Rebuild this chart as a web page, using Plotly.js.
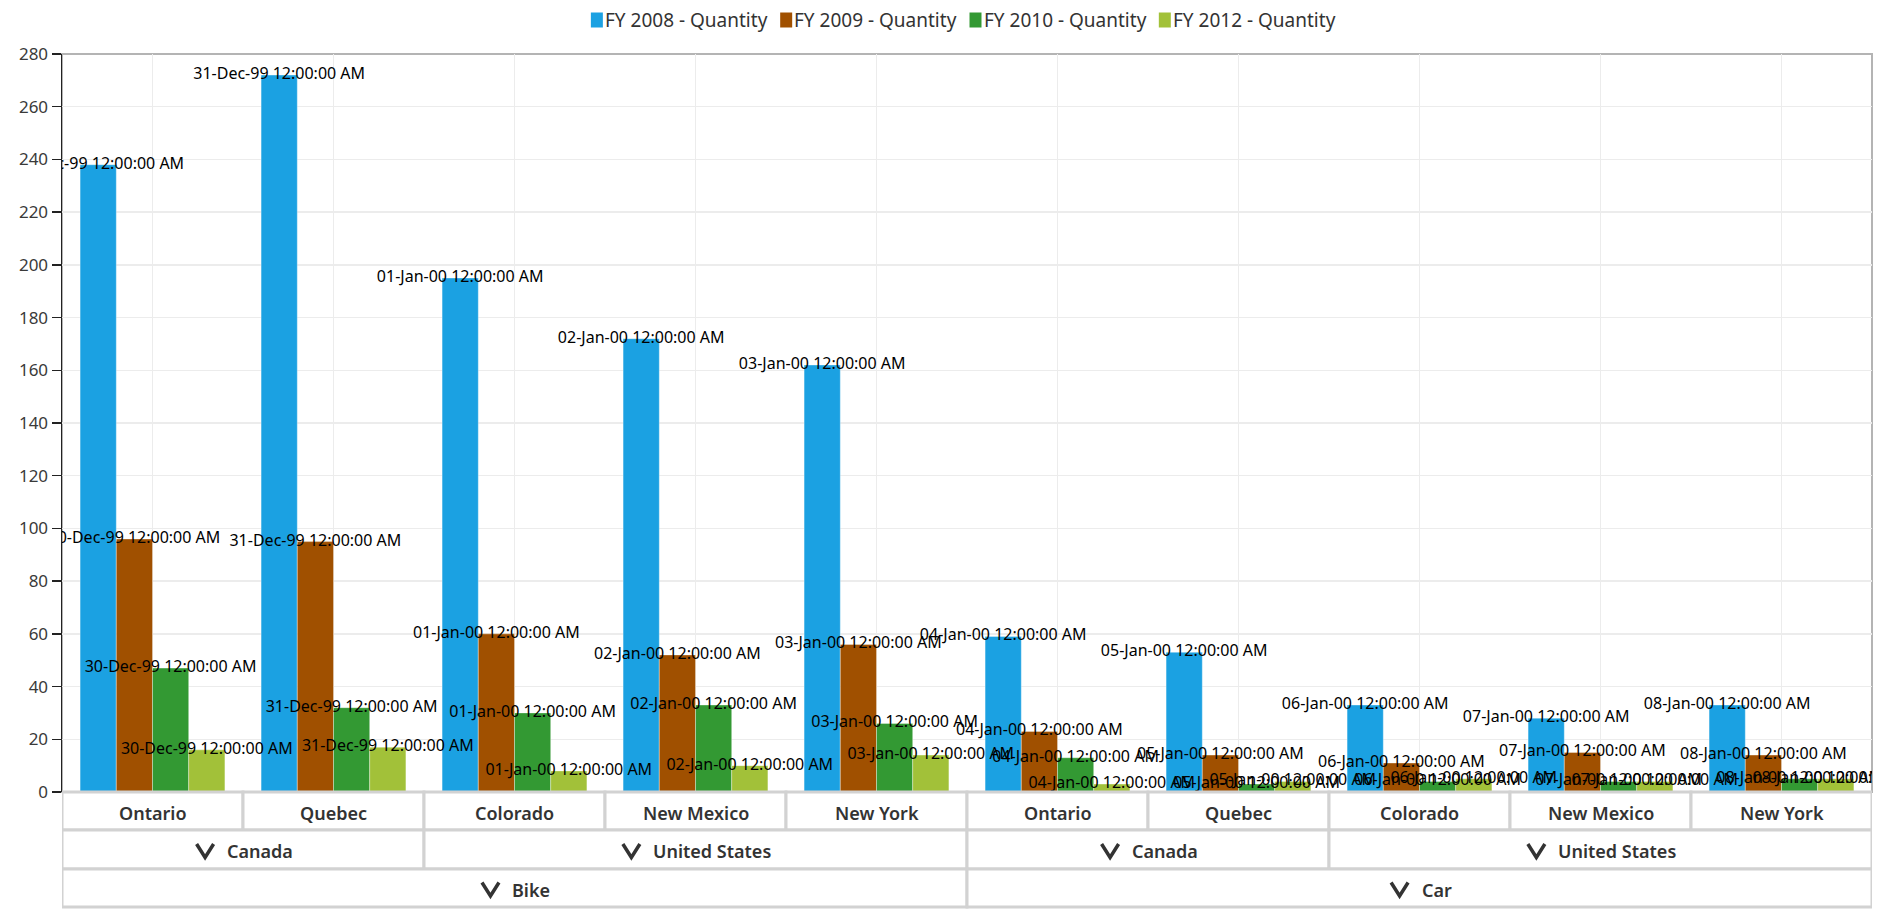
<!DOCTYPE html>
<html>
<head>
<meta charset="utf-8">
<script src="https://cdn.plot.ly/plotly-3.0.1.min.js"></script>
<style>
  html, body { margin: 0; padding: 0; background: #ffffff; }
  #chart { width: 1878px; height: 915px; }
</style>
</head>
<body>
<div id="chart"></div>
<script>
// Hierarchical categories: vehicle > country > state/province
const vehicles  = ['Bike', 'Bike', 'Bike', 'Bike', 'Bike', 'Car', 'Car', 'Car', 'Car', 'Car'];
const countries = ['Canada', 'Canada', 'United States', 'United States', 'United States',
                   'Canada', 'Canada', 'United States', 'United States', 'United States'];
const states    = ['Ontario', 'Quebec', 'Colorado', 'New Mexico', 'New York',
                   'Ontario', 'Quebec', 'Colorado', 'New Mexico', 'New York'];

// Data-label text shown at the top of every bar of a category
const pointLabels = ['30-Dec-99 12:00:00 AM', '31-Dec-99 12:00:00 AM', '01-Jan-00 12:00:00 AM',
                     '02-Jan-00 12:00:00 AM', '03-Jan-00 12:00:00 AM', '04-Jan-00 12:00:00 AM',
                     '05-Jan-00 12:00:00 AM', '06-Jan-00 12:00:00 AM', '07-Jan-00 12:00:00 AM',
                     '08-Jan-00 12:00:00 AM'];

// Quantity series
const seriesNames  = ['FY 2008 - Quantity', 'FY 2009 - Quantity', 'FY 2010 - Quantity', 'FY 2012 - Quantity'];
const seriesColors = ['#1ba1e2', '#a05000', '#339933', '#a2c139'];
const fy2008 = [238, 272, 195, 172, 162, 59, 53, 33, 28, 33];
const fy2009 = [96, 95, 60, 52, 56, 23, 14, 11, 15, 14];
const fy2010 = [47, 32, 30, 33, 26, 13, 3, 4, 4, 5];
const fy2012 = [16, 17, 8, 10, 14, 3, 4, 5, 4, 5];
const seriesValues = [fy2008, fy2009, fy2010, fy2012];

// Y axis ticks
const yTickValues = [0, 20, 40, 60, 80, 100, 120, 140, 160, 180, 200, 220, 240, 260, 280];

// ---- layout constants ----
const W = 1878, H = 915;
const M = { l: 62, r: 6, t: 54, b: 123 };
const plotW = W - M.l - M.r;
const plotH = H - M.t - M.b;
const FONT = '"Segoe UI", "Noto Sans", sans-serif';
const GAP = 0.2;

// pixel position (from page top-left) -> paper units
const py = p => (H - M.b - p) / plotH;
const px = p => (p - M.l) / plotW;

const catKeys = states.map((s, i) => vehicles[i] + ' / ' + countries[i] + ' / ' + s);

const traces = [];
seriesValues.forEach((vals, k) => {
  traces.push({
    type: 'bar',
    name: seriesNames[k],
    x: catKeys,
    y: vals,
    marker: { color: seriesColors[k], line: { color: 'rgba(255,255,255,0.35)', width: 1 } },
    showlegend: false,
    hoverinfo: 'skip'
  });
});
seriesValues.forEach((vals, k) => {
  traces.push({
    type: 'scatter',
    mode: 'text',
    x: catKeys,
    y: vals,
    text: pointLabels,
    textposition: 'middle center',
    textfont: { family: FONT, size: 16, color: '#000000' },
    cliponaxis: true,
    showlegend: false,
    hoverinfo: 'skip'
  });
});

// consecutive runs of equal keys -> header cells
function runs(keyOf, labelOf) {
  const out = [];
  for (let i = 0; i < catKeys.length; i++) {
    const key = keyOf(i);
    const last = out[out.length - 1];
    if (last && last.key === key) last.end = i;
    else out.push({ key: key, label: labelOf(i), start: i, end: i });
  }
  return out;
}

const headerRows = [
  { top: 792, bottom: 830, chevron: false, cells: runs(i => i, i => states[i]) },
  { top: 830, bottom: 869, chevron: true,  cells: runs(i => vehicles[i] + countries[i], i => countries[i]) },
  { top: 869, bottom: 907, chevron: true,  cells: runs(i => vehicles[i], i => vehicles[i]) }
];

const headerFontSize = 18;
const measureCtx = document.createElement('canvas').getContext('2d');

const shapes = [{
  type: 'rect', xref: 'paper', yref: 'paper', x0: 0, x1: 1, y0: 0, y1: 1,
  line: { color: '#b4b4b4', width: 2 }, layer: 'between'
}];
const annotations = [];

// header cells below the plot
measureCtx.font = '600 ' + headerFontSize + 'px ' + FONT;
headerRows.forEach(row => {
  const yMid = py((row.top + row.bottom) / 2);
  row.cells.forEach(cell => {
    shapes.push({
      type: 'rect', xref: 'x', yref: 'paper',
      x0: cell.start - 0.5, x1: cell.end + 0.5,
      y0: py(row.bottom), y1: py(row.top),
      line: { color: '#d2d2d2', width: 3 }, fillcolor: '#ffffff', layer: 'above'
    });
    const center = (cell.start + cell.end) / 2;
    let textShift = 0, anchor = 'center';
    if (row.chevron) {
      const tw = measureCtx.measureText(cell.label).width;
      const total = 20 + 10 + tw;
      const chevX = -total / 2 + 10;
      shapes.push({
        type: 'path', xref: 'x', yref: 'paper',
        xsizemode: 'pixel', ysizemode: 'pixel',
        xanchor: center, yanchor: yMid,
        path: 'M ' + (chevX - 8.5) + ',5.5 L ' + chevX + ',-8 L ' + (chevX + 8.5) + ',5.5',
        line: { color: '#333333', width: 3.5 }, layer: 'above'
      });
      textShift = -total / 2 + 30;
      anchor = 'left';
    }
    annotations.push({
      xref: 'x', yref: 'paper', x: center, y: yMid,
      xanchor: anchor, yanchor: 'middle', xshift: textShift, yshift: -2,
      text: cell.label, showarrow: false,
      font: { family: FONT, size: headerFontSize, color: '#333333', weight: 600 }
    });
  });
});

// legend row above the plot: colour swatch followed by the series name
const legendFontSize = 19;
const legendCenterX = 963, legendY = 20;
const swatchW = 12, swatchH = 15, itemGap = 13;
measureCtx.font = legendFontSize + 'px ' + FONT;
const legendWidths = seriesNames.map(n => measureCtx.measureText(n).width);
const legendTotal = legendWidths.reduce((a, w) => a + swatchW + 2 + w + itemGap, 0) - itemGap;
let lx = legendCenterX - legendTotal / 2;
seriesNames.forEach((name, k) => {
  shapes.push({
    type: 'rect', xref: 'paper', yref: 'paper',
    x0: px(lx), x1: px(lx + swatchW),
    y0: py(legendY + swatchH / 2), y1: py(legendY - swatchH / 2),
    line: { width: 0 }, fillcolor: seriesColors[k]
  });
  annotations.push({
    xref: 'paper', yref: 'paper', x: px(lx + swatchW + 1), y: py(legendY),
    xanchor: 'left', yanchor: 'middle', text: name, showarrow: false, borderpad: 0,
    font: { family: FONT, size: legendFontSize, color: '#333333' }
  });
  lx += swatchW + 2 + legendWidths[k] + itemGap;
});

const layout = {
  width: W, height: H,
  margin: M,
  paper_bgcolor: '#ffffff',
  plot_bgcolor: '#ffffff',
  font: { family: FONT, color: '#333333' },
  barmode: 'group',
  bargap: GAP,
  bargroupgap: 0,
  scattermode: 'group',
  scattergap: GAP,
  showlegend: false,
  xaxis: {
    type: 'category',
    range: [-0.5, catKeys.length - 0.5],
    showticklabels: false,
    ticks: '',
    showgrid: true, gridcolor: '#ececec', gridwidth: 1.5,
    showline: false, zeroline: false,
    fixedrange: true
  },
  yaxis: {
    range: [0, 280],
    tickvals: yTickValues,
    ticks: 'outside', ticklen: 9, tickwidth: 1.5, tickcolor: '#222222',
    tickfont: { family: FONT, size: 17, color: '#3a3a3a' },
    showgrid: true, gridcolor: '#ececec', gridwidth: 1.5,
    showline: true, linecolor: '#222222', linewidth: 1.5,
    zeroline: false, fixedrange: true
  },
  shapes: shapes,
  annotations: annotations
};

Plotly.newPlot('chart', traces, layout, { displayModeBar: false, staticPlot: true });
</script>
</body>
</html>
